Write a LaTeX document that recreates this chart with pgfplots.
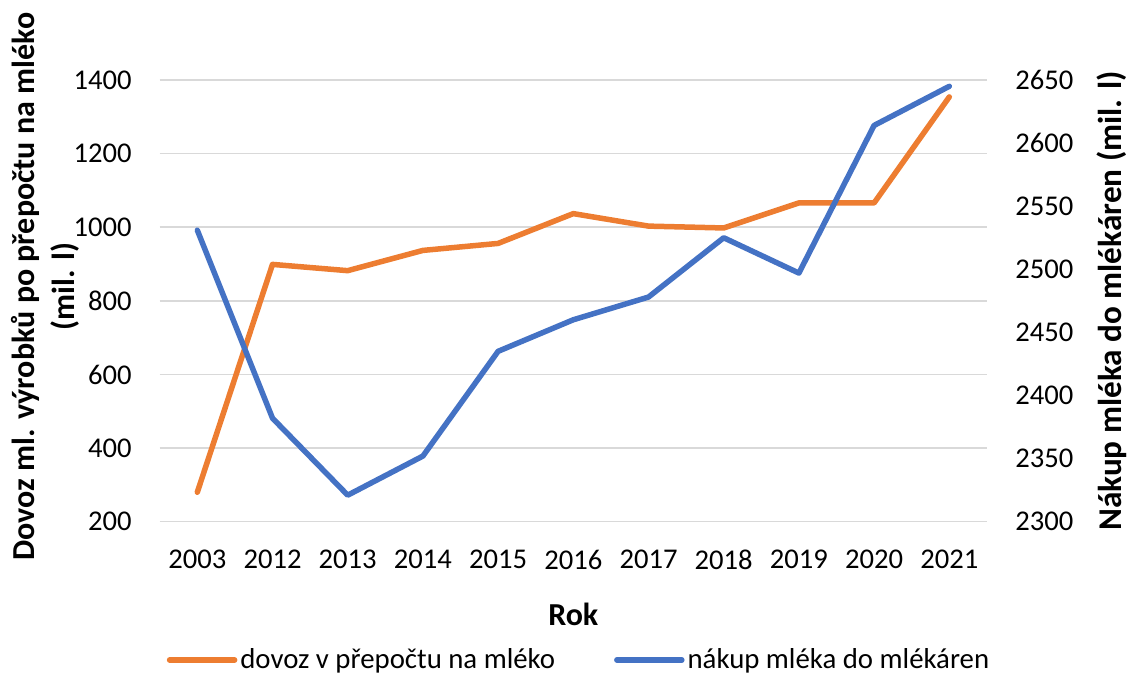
\documentclass[border=0pt]{standalone}
\usepackage{fontspec}
\setmainfont{Carlito}
\usepackage{pgfplots}
\usepackage{pgfplotstable}
\pgfplotsset{compat=1.18}
\definecolor{cOrange}{HTML}{ED7D31}
\definecolor{cBlue}{HTML}{4472C4}
\definecolor{cGrid}{HTML}{D9D9D9}
\pgfplotstableread{
x dovoz nakup
0 280 2531
1 899 2382
2 882 2321
3 937 2352
4 956 2435
5 1037 2460
6 1003 2478
7 998 2525
8 1066 2497
9 1066 2614
10 1354 2645
}\datatable
\begin{document}
\begin{tikzpicture}
\useasboundingbox (0,0) rectangle (565.5pt,336.5pt);
\pgfplotsset{
  base/.style={
    at={(79.85pt,75.65pt)}, anchor=south west,
    width=413.6pt, height=220.85pt, scale only axis,
    xmin=-0.5, xmax=10.5,
    xtick={0,...,10},
    xticklabels={2003,2012,2013,2014,2015,2016,2017,2018,2019,2020,2021},
    /pgf/number format/assume math mode=true,
    /pgf/number format/1000 sep={},
    scaled ticks=false,
    tick style={draw=none},
    axis line style={draw=none},
    ticklabel style={font=\fontsize{14.3}{17}\selectfont, inner sep=0pt},
    clip=false,
  },
}
\begin{axis}[base,
  ymin=200, ymax=1400, ytick={200,400,...,1400},
  ymajorgrids, grid style={cGrid, line width=0.75pt},
  xticklabel style={yshift=-14pt},
  yticklabel style={xshift=-13.8pt},
  xlabel={\textbf{Rok}},
  xlabel style={font=\fontsize{16}{19}\selectfont, at={(axis description cs:0.5,-0.234)}, anchor=base},
  ylabel={\textbf{Dovoz ml. výrobků po přepočtu na mléko}\\\textbf{(mil. l)}},
  ylabel style={font=\fontsize{16}{20}\selectfont, align=center, at={(axis description cs:-0.1387,0.532)}, anchor=center, rotate=0},
  legend style={draw=none, fill=none, at={(axis description cs:0.5075,-0.313)}, anchor=center,
    font=\fontsize{14.4}{17}\selectfont, legend columns=2,
    /tikz/every even column/.append style={column sep=28pt},
    inner sep=0pt, nodes={inner sep=1.5pt}},
  legend image code/.code={\draw[#1] (0pt,0pt) -- (32.5pt,0pt);},
]
\addplot[cOrange, line width=2.75pt, line cap=round, line join=round] table[x=x, y=dovoz] {\datatable};
\addlegendentry{dovoz v přepočtu na mléko}
\addlegendimage{cBlue, line width=2.75pt, line cap=round}
\addlegendentry{nákup mléka do mlékáren}
\end{axis}
\begin{axis}[base,
  ymin=2300, ymax=2650, ytick={2300,2350,...,2650},
  axis y line*=right, axis x line=none,
  yticklabel style={xshift=14pt},
  ylabel={\textbf{Nákup mléka do mlékáren (mil. l)}},
  ylabel style={font=\fontsize{16.6}{20}\selectfont, at={(axis description cs:1.1633,0.5)}, anchor=base, rotate=0, inner sep=0pt},
]
\addplot[cBlue, line width=2.75pt, line cap=round, line join=round] table[x=x, y=nakup] {\datatable};
\end{axis}
\end{tikzpicture}
\end{document}
